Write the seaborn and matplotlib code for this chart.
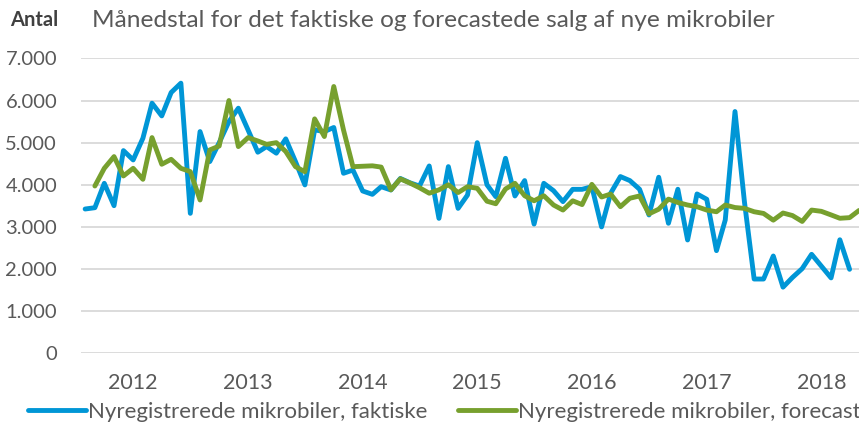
import pandas as pd
import numpy as np
import matplotlib
matplotlib.use("Agg")
import matplotlib.pyplot as plt
import matplotlib.dates as mdates
import seaborn as sns

# monthly figures, actual from Aug 2011, forecast from Sep 2011
faktiske = [3425, 3456, 4035, 3504, 4811, 4590, 5105, 5937, 5635, 6190,
            6412, 3322, 5263, 4550, 5000, 5500, 5818, 5300, 4773, 4907,
            4750, 5090, 4551, 3997, 5303, 5264, 5360, 4273, 4350, 3853,
            3773, 3955, 3876, 4150, 4046, 3970, 4447, 3203, 4431, 3440,
            3757, 5000, 4000, 3718, 4629, 3734, 4100, 3068, 4035, 3860,
            3600, 3892, 3892, 3955, 3000, 3800, 4195, 4100, 3894, 3284,
            4179, 3086, 3894, 2690, 3783, 3656, 2437, 3165, 5739, 3600,
            1763, 1763, 2310, 1570, 1800, 2010, 2350, 2070, 1790, 2695,
            1994]
forecast = [3971, 4391, 4669, 4209, 4391, 4130, 5120, 4487, 4605, 4391,
            4312, 3639, 4827, 4920, 6000, 4907, 5120, 5040, 4960, 5000,
            4790, 4430, 4310, 5565, 5145, 6333, 5300, 4430, 4440, 4450,
            4420, 3880, 4140, 4040, 3930, 3800, 3880, 4000, 3815, 3955,
            3916, 3610, 3550, 3900, 4035, 3740, 3620, 3740, 3520, 3400,
            3620, 3530, 4010, 3710, 3780, 3480, 3680, 3735, 3310, 3420,
            3660, 3580, 3520, 3480, 3400, 3360, 3520, 3460, 3440, 3360,
            3320, 3160, 3330, 3270, 3130, 3400, 3370, 3285, 3205, 3220,
            3390]
start_faktiske = "2011-08-01"
start_forecast = "2011-09-01"
navn_faktiske = "Nyregistrerede mikrobiler, faktiske"
navn_forecast = "Nyregistrerede mikrobiler, forecast"
y_ticks = [0, 1000, 2000, 3000, 4000, 5000, 6000, 7000]
y_labels = ["0", "1.000", "2.000", "3.000", "4.000", "5.000", "6.000", "7.000"]

blue = "#0096D6"
green = "#77A02E"
grey = "#595959"

df = pd.concat([
    pd.DataFrame({"dato": pd.date_range(start_faktiske, periods=len(faktiske), freq="MS"),
                  "antal": faktiske, "serie": navn_faktiske}),
    pd.DataFrame({"dato": pd.date_range(start_forecast, periods=len(forecast), freq="MS"),
                  "antal": forecast, "serie": navn_forecast}),
])

sns.set_style("white")
plt.rcParams["font.family"] = ["Lato", "DejaVu Sans"]

fig = plt.figure(figsize=(8.59, 4.25), dpi=100)
ax = fig.add_axes([0.094, 0.1687, 0.906, 0.6939])

sns.lineplot(data=df, x="dato", y="antal", hue="serie", palette=[blue, green],
             linewidth=3.5, ax=ax, legend=True)

ax.set_ylim(0, 7000)
ax.set_xlim(pd.Timestamp("2011-07-18"), pd.Timestamp("2018-05-01"))
ax.set_yticks(y_ticks)
ax.set_yticklabels(y_labels)
ax.yaxis.grid(True, color="#D9D9D9", linewidth=1.3)
ax.xaxis.grid(False)
ax.set_axisbelow(True)
for s in ax.spines.values():
    s.set_visible(False)
ax.xaxis.set_major_locator(mdates.YearLocator())
ax.xaxis.set_major_formatter(mdates.DateFormatter("%Y"))
ax.tick_params(axis="y", length=0, pad=17, labelsize=14.5, labelcolor=grey)
ax.tick_params(axis="x", length=0, pad=14, labelsize=15.5, labelcolor=grey)
ax.set_xlabel("")
ax.set_ylabel("")

handles, labels = ax.get_legend_handles_labels()
ax.legend(handles, labels, loc="center left", bbox_to_anchor=(0.033, 0.03),
          bbox_transform=fig.transFigure, ncol=2, frameon=False,
          fontsize=16, handlelength=2.6, handletextpad=0.08,
          columnspacing=1.4, labelcolor=grey, borderaxespad=0, borderpad=0)

fig.text(0.012, 0.952, "Antal", fontsize=14.5, fontweight="bold", color="#404040",
         va="center", ha="left")
fig.text(0.107, 0.952, "Månedstal for det faktiske og forecastede salg af nye mikrobiler",
         fontsize=17.6, color=grey, va="center", ha="left")

fig.savefig("out.png", dpi=100)
